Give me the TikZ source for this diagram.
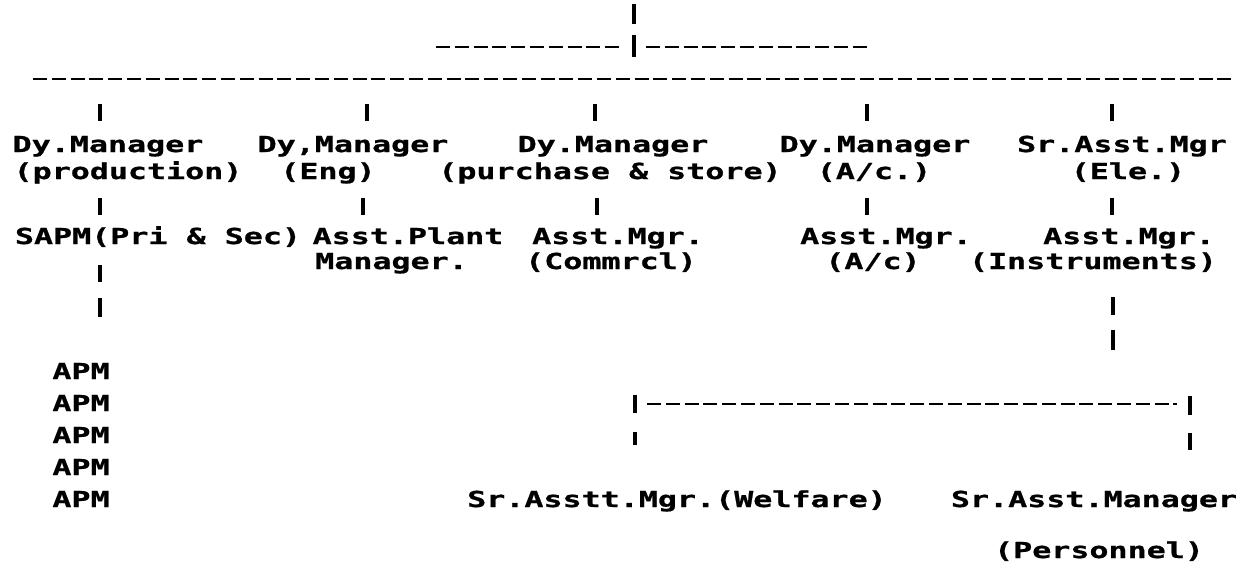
\documentclass[tikz,border=0pt]{standalone}
\usepackage{fontspec}
\newfontfamily\dm[FakeStretch=1.44,BoldFeatures={FakeBold=0.9}]{DejaVu Sans Mono}
\begin{document}
\begin{tikzpicture}[x=1pt,y=-1pt,
  txt/.style={inner sep=0pt,anchor=base,font=\dm\bfseries\fontsize{22}{25}\selectfont},
  bar/.style={line width=3.4pt},
  hy/.style={line width=2.6pt,dash pattern=on 14pt off 4.8pt}]
\useasboundingbox[fill=white] (0,0) rectangle (1250,581);

% row 1
\node[txt] (n1) at (108,152) {Dy.Manager};
\node[txt] (n2) at (353,152) {Dy,Manager};
\node[txt] (n3) at (613,152) {Dy.Manager};
\node[txt] (n4) at (875,152) {Dy.Manager};
\node[txt] (n5) at (1122,152) {Sr.Asst.Mgr};
% row 2
\node[txt] (d1) at (128,179) {(production)};
\node[txt] (d2) at (328,179) {(Eng)};
\node[txt] (d3) at (610,179) {(purchase \& store)};
\node[txt] (d4) at (874,179) {(A/c.)};
\node[txt] (d5) at (1128,179) {(Ele.)};
% row 3
\node[txt] (a1) at (158,244) {SAPM(Pri \& Sec)};
\node[txt] (a2) at (408,244) {Asst.Plant};
\node[txt] (a3) at (618,244) {Asst.Mgr.};
\node[txt] (a4) at (886,244) {Asst.Mgr.};
\node[txt] (a5) at (1129,244) {Asst.Mgr.};
% row 4
\node[txt,anchor=base west] (m2) at (315,269) {Manager.};
\node[txt] (m3) at (611,269) {(Commrcl)};
\node[txt] (m4) at (873,269) {(A/c)};
\node[txt] (m5) at (1093,269) {(Instruments)};
% APM column
\foreach \i/\y in {1/379,2/411,3/443,4/475,5/507}
  \node[txt] (apm\i) at (81,\y) {APM};
% bottom
\node[txt] (w) at (677,507) {Sr.Asstt.Mgr.(Welfare)};
\node[txt] (s) at (1094,507) {Sr.Asst.Manager};
\node[txt] (p) at (1099,558) {(Personnel)};

% vertical bars
\foreach \n/\x/\ya/\yb in {
  top/634/4/24, hub/634/35/57,
  ta/100/104/121, tb/367/104/121, tc/595/104/121, td/867/104/121, te/1112/104/121,
  ua/100/198/215, ub/363/198/215, uc/597/198/215, ud/867/198/215, ue/1112/198/215,
  va/100/265/282, vb/100/298/317,
  wa/1113/297/315, wb/1113/330/350,
  la/635/395/413, lb/1190/396/415,
  ma/635/432/445, mb/1190/433/450}{
  \coordinate (\n1) at (\x,\ya);
  \coordinate (\n2) at (\x,\yb);
  \draw[bar] (\n1) -- (\n2);
}

% dashed (hyphen) lines
\coordinate (h1) at (436,47);
\coordinate (h2) at (623,47);
\coordinate (h3) at (646,47);
\coordinate (h4) at (870,47);
\draw[hy] (h1) -- (h2);
\draw[hy] (h3) -- (h4);
\coordinate (g1) at (33,79);
\coordinate (g2) at (1233,79);
\draw[hy] (g1) -- (g2);
\coordinate (k1) at (647,404);
\coordinate (k2) at (1177,404);
\draw[hy] (k1) -- (k2);
\end{tikzpicture}
\end{document}
